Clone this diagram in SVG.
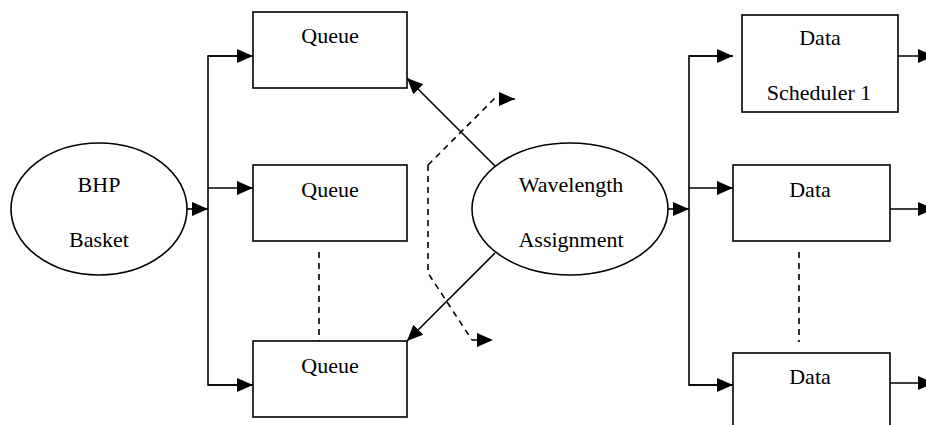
<svg xmlns="http://www.w3.org/2000/svg" width="926" height="425" viewBox="0 0 926 425">
<defs>
<marker id="ah" markerUnits="userSpaceOnUse" markerWidth="17" markerHeight="15" refX="16" refY="7" orient="auto">
<path d="M0,0 L16,7 L0,14 z" fill="#000"/>
</marker>
<style>
.n{fill:#fff;stroke:#000;stroke-width:1.6}
.t{font-family:"Liberation Serif","Times New Roman",serif;font-size:22px;fill:#000;text-anchor:middle}
.c{fill:none;stroke:#000;stroke-width:1.6}
.a{marker-end:url(#ah)}
.d{stroke-dasharray:6,5}
</style>
</defs>
<rect width="926" height="425" fill="#fff"/>
<g id="connectors">
<line class="c a" x1="187" y1="209" x2="208" y2="209"/>
<polyline class="c" points="253,56 208,56 208,385 253,385"/>
<line class="c a" x1="208" y1="56" x2="253" y2="56"/>
<line class="c a" x1="208" y1="188" x2="253" y2="188"/>
<line class="c a" x1="208" y1="385" x2="253" y2="385"/>
<line class="c d" x1="319" y1="252" x2="319" y2="341"/>
<line class="c a" x1="495" y1="166" x2="407" y2="78"/>
<line class="c a" x1="495" y1="253" x2="407" y2="341"/>
<polyline class="c d a" points="428,165 494,99 515,99"/>
<polyline class="c d" points="428,165 428,273 472,340"/>
<polyline class="c d a" points="472,340 493,340"/>
<line class="c a" x1="668" y1="209" x2="689" y2="209"/>
<polyline class="c" points="733,56 689,56 689,385 733,385"/>
<line class="c a" x1="689" y1="56" x2="733" y2="56"/>
<line class="c a" x1="689" y1="188" x2="733" y2="188"/>
<line class="c a" x1="689" y1="385" x2="733" y2="385"/>
<line class="c d" x1="799" y1="252" x2="799" y2="342"/>
<line class="c a" x1="898" y1="56" x2="934" y2="56"/>
<line class="c a" x1="890" y1="209" x2="934" y2="209"/>
<line class="c a" x1="890" y1="383" x2="934" y2="383"/>
</g>
<g id="bhp">
<ellipse class="n" cx="99" cy="209" rx="88" ry="66"/>
<text class="t" x="99" y="192">BHP</text>
<text class="t" x="99" y="247">Basket</text>
</g>
<g id="queue1">
<rect class="n" x="253" y="12" width="154" height="76"/>
<text class="t" x="330" y="43">Queue</text>
</g>
<g id="queue2">
<rect class="n" x="253" y="165" width="154" height="76"/>
<text class="t" x="330" y="197">Queue</text>
</g>
<g id="queue3">
<rect class="n" x="253" y="341" width="154" height="76"/>
<text class="t" x="330" y="373">Queue</text>
</g>
<g id="wavelength">
<ellipse class="n" cx="570" cy="209" rx="98" ry="66"/>
<text class="t" x="571" y="192">Wavelength</text>
<text class="t" x="571" y="247">Assignment</text>
</g>
<g id="data1">
<rect class="n" x="742" y="15" width="156" height="97"/>
<text class="t" x="820" y="45">Data</text>
<text class="t" x="819" y="100">Scheduler 1</text>
</g>
<g id="data2">
<rect class="n" x="733" y="165" width="157" height="76"/>
<text class="t" x="810" y="197">Data</text>
</g>
<g id="data3">
<rect class="n" x="733" y="353" width="157" height="90"/>
<text class="t" x="810" y="384">Data</text>
</g>
</svg>
